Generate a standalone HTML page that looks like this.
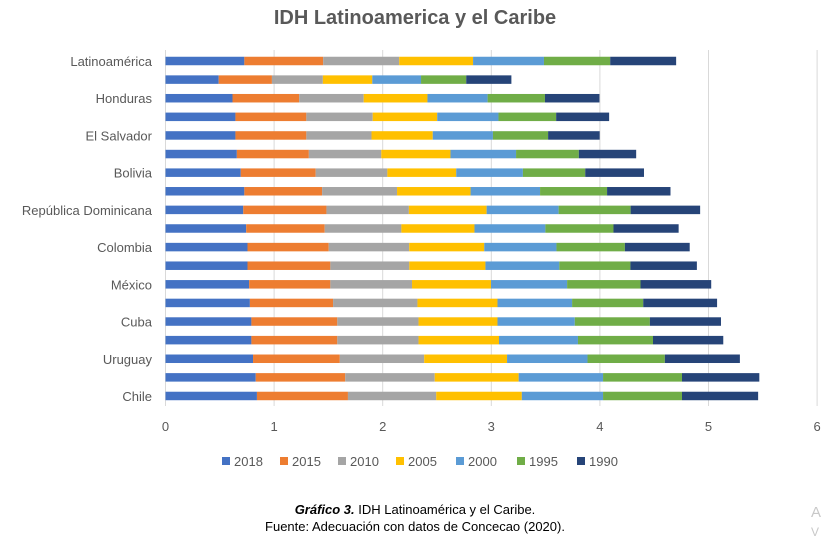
<!DOCTYPE html>
<html><head><meta charset="utf-8">
<style>
body{margin:0;background:#fff;width:822px;height:538px;overflow:hidden;font-family:"Liberation Sans",sans-serif;}
svg text{font-family:"Liberation Sans",sans-serif;}
</style></head>
<body>
<svg id="chart" width="822" height="538" xmlns="http://www.w3.org/2000/svg">
<text x="415" y="24" text-anchor="middle" font-size="20" font-weight="bold" fill="#595959">IDH Latinoamerica y el Caribe</text>
<g id="grid"></g><g id="bars"></g><g id="labels"></g><g id="legend"></g>
<text x="415" y="514" text-anchor="middle" font-size="13" fill="#000"><tspan font-weight="bold" font-style="italic">Gráfico 3.</tspan> IDH Latinoamérica y el Caribe.</text>
<text x="415" y="531" text-anchor="middle" font-size="13" fill="#000">Fuente: Adecuación con datos de Concecao (2020).</text>
<text x="811" y="517" font-size="15" fill="#c8c8c8">A</text>
<text x="811" y="536" font-size="12" fill="#c8c8c8">V</text>
</svg>
<script>
const categories=["Latinoamérica","Haití","Honduras","Guatemala","El Salvador","Paraguay","Bolivia","Ecuador","República Dominicana","Perú","Colombia","Brasil","México","Venezuela","Cuba","Costa Rica","Uruguay","Argentina","Chile"];
const seriesNames=["2018","2015","2010","2005","2000","1995","1990"];
const colors=["#4472c4","#ed7d31","#a5a5a5","#ffc000","#5b9bd5","#70ad47","#264478"];
const v2018=[.726,.49,.617,.644,.644,.657,.693,.726,.716,.743,.755,.755,.77,.777,.791,.791,.806,.831,.842];
const v2015=[.726,.49,.614,.653,.653,.663,.69,.716,.766,.723,.748,.763,.748,.766,.791,.791,.799,.824,.838];
const v2010=[.70,.469,.594,.611,.60,.667,.66,.69,.759,.706,.741,.727,.752,.777,.748,.748,.777,.824,.813];
const v2005=[.68,.455,.587,.594,.564,.637,.634,.677,.716,.673,.691,.701,.727,.737,.727,.741,.763,.773,.788];
const v2000=[.653,.449,.554,.564,.554,.604,.614,.64,.663,.653,.665,.68,.701,.687,.712,.727,.741,.777,.748];
const v1995=[.61,.416,.528,.531,.508,.578,.574,.617,.663,.627,.63,.655,.676,.655,.691,.691,.712,.727,.727];
const v1990=[.607,.416,.502,.488,.475,.528,.541,.584,.64,.60,.597,.612,.651,.68,.655,.647,.691,.712,.701];
const series=[v2018,v2015,v2010,v2005,v2000,v1995,v1990];
const xTicks=[0,1,2,3,4,5,6];
const NS="http://www.w3.org/2000/svg";
const x0=165.5,unit=108.6,yTop=61,step=18.61,bh=8.5;
const xs=v=>x0+v*unit, ys=i=>yTop+i*step;
function mk(t,a,p){const e=document.createElementNS(NS,t);for(const k in a)e.setAttribute(k,a[k]);p.appendChild(e);return e;}
const grid=document.getElementById('grid'),bars=document.getElementById('bars'),labels=document.getElementById('labels'),legend=document.getElementById('legend');
xTicks.forEach(t=>{
 const l=mk('line',{x1:xs(t),x2:xs(t),y1:50,y2:406,stroke:'#d9d9d9','stroke-width':1},grid);
 
 
 const tx=mk('text',{x:xs(t),y:431,'text-anchor':'middle','font-size':13,fill:'#595959'},labels);
 tx.textContent=t;
 
 
});
categories.forEach((c,i)=>{
 let acc=0;
 series.forEach((s,j)=>{
  const r=mk('rect',{x:xs(acc),y:ys(i)-bh/2,width:s[i]*unit,height:bh,fill:colors[j]},bars);
  
  
  acc+=s[i];
 });
 if(i%2===0){
  const t=mk('text',{x:152,y:ys(i)+5,'text-anchor':'end','font-size':13,fill:'#595959'},labels);
  t.textContent=c;
  
  
 }
});
const lx=[222,280,338,396,456,517,577];
seriesNames.forEach((n,j)=>{
 const r=mk('rect',{x:lx[j],y:457,width:8,height:8,fill:colors[j]},legend);
 
 
 const t=mk('text',{x:lx[j]+12,y:466,'font-size':13,fill:'#595959'},legend);
 t.textContent=n;
 
 
});
</script>
</body></html>
